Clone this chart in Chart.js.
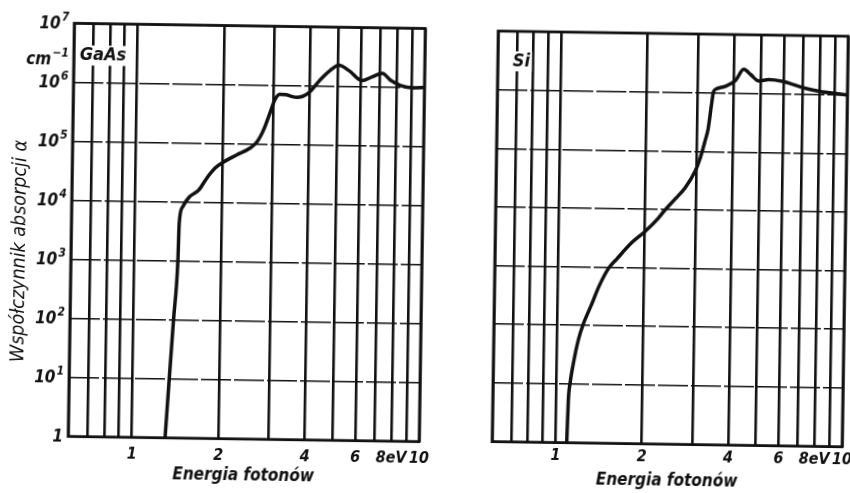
<!DOCTYPE html>
<html>
<head>
<meta charset="utf-8">
<title>Współczynnik absorpcji GaAs i Si</title>
<script src="https://cdn.jsdelivr.net/npm/chart.js@4.4.1/dist/chart.umd.min.js"></script>
<style>
    html, body { margin: 0; padding: 0; background: #fff; overflow: hidden; }
    /* the scanned figure sits slightly turned on the page */
    #sheet { position: relative; width: 850px; height: 493px; transform: rotate(0.85deg); transform-origin: 425px 246.5px; }
    .panel { position: absolute; top: 0; }
    #gaasBox { left: 0; }
    #siBox { left: 440px; }
</style>
</head>
<body>
<div id="sheet">
    <div class="panel" id="gaasBox"><canvas id="gaasChart" width="440" height="493"></canvas></div>
    <div class="panel" id="siBox"><canvas id="siChart" width="420" height="493"></canvas></div>
</div>
<script>
// photon energy grid [eV] and axis labels
const gridEnergies = [0.6, 0.7, 0.8, 0.9, 1, 2, 3, 4, 5, 6, 7, 8, 9, 10];
const energyLabels = { 1: '1', 2: '2', 4: '4', 6: '6', 8: '8eV', 10: '10' };
const alphaDecades = [1, 1e1, 1e2, 1e3, 1e4, 1e5, 1e6, 1e7];
const alphaExponents = ['', '1', '2', '3', '4', '5', '6', '7'];

// GaAs: absorption coefficient alpha [cm^-1] vs energy [eV]
const gaasEnergy = [1.305, 1.34, 1.377, 1.416, 1.425, 1.46, 1.54, 1.66, 1.77, 1.89, 2.02, 2.24, 2.49, 2.63,
    2.77, 2.91, 3.02, 3.14, 3.30, 3.45, 3.60, 3.95, 4.33, 4.70, 5.03, 5.45, 6.06, 6.58, 7.13, 7.62, 8.26, 9.08, 10];
const gaasAlpha = [1, 10, 100, 1000, 4400, 8200, 12200, 16100, 25900, 38400, 48700, 64600, 85000, 108000,
    174000, 338000, 563000, 705000, 700000, 655000, 630000, 750000, 1.26e6, 1.86e6, 2.27e6, 1.86e6, 1.26e6,
    1.47e6, 1.70e6, 1.30e6, 1.07e6, 0.98e6, 1.0e6];

// Si
const siEnergy = [1.093, 1.102, 1.115, 1.142, 1.185, 1.231, 1.313, 1.39, 1.50, 1.60, 1.80, 2.0, 2.22, 2.34,
    2.54, 2.75, 2.97, 3.09, 3.21, 3.28, 3.36, 3.41, 3.50, 3.75, 4.06, 4.34, 4.59, 4.90, 5.31, 5.91, 7.14, 8.17, 9.0, 10];
const siAlpha = [1, 5.3, 10.4, 22.6, 56.6, 106, 231, 470, 970, 1400, 2670, 4170, 7050, 9770,
    15300, 24000, 45700, 77000, 155000, 240000, 620000, 1.04e6, 1.18e6, 1.31e6, 1.64e6, 2.57e6, 2.1e6,
    1.64e6, 1.74e6, 1.64e6, 1.26e6, 1.11e6, 1.06e6, 1.0e6];

const INK = '#111';
const FACE = '"Liberation Sans Narrow", "DejaVu Sans Condensed", "Liberation Sans", sans-serif';

// text with a raised exponent, right edge at x
function powerText(ctx, base, sup, x, y) {
    ctx.textAlign = 'right';
    ctx.font = 'italic bold 12px ' + FACE;
    const sw = sup ? ctx.measureText(sup).width : 0;
    if (sup) ctx.fillText(sup, x, y - 7);
    ctx.font = 'italic bold 17px ' + FACE;
    ctx.fillText(base, x - sw - (sup ? 1 : 0), y);
}

// frame, material name, decade labels and the extra GaAs captions
const panelDecor = {
    id: 'panelDecor',
    afterDraw(chart, args, opts) {
        const { ctx, chartArea: a } = chart;
        ctx.save();
        ctx.lineWidth = 2.8;
        ctx.strokeStyle = INK;
        ctx.strokeRect(a.left, a.top, a.right - a.left, a.bottom - a.top);

        ctx.fillStyle = INK;
        ctx.textBaseline = 'middle';
        ctx.font = 'italic bold 18px ' + FACE;
        const nx = a.left + opts.nameX;
        const ny = a.top + opts.nameY;
        const w = ctx.measureText(opts.name).width;
        ctx.fillStyle = '#fff';
        ctx.fillRect(nx - 2, ny - 10, w + 4, 20);
        ctx.fillStyle = INK;
        ctx.textAlign = 'left';
        ctx.fillText(opts.name, nx, ny);

        if (opts.yLabels) {
            const yScale = chart.scales.y;
            alphaDecades.forEach((v, i) => {
                const py = yScale.getPixelForValue(v) + 1;
                powerText(ctx, v === 1 ? '1' : '10', alphaExponents[i], a.left - 5, py);
            });
            powerText(ctx, 'cm', '−1', a.left - 5, a.top + 37);
        }
        if (opts.yTitle) {
            ctx.font = 'italic 19.5px ' + FACE;
            ctx.textAlign = 'center';
            ctx.translate(a.left - 51, (a.top + a.bottom) / 2 + 22);
            ctx.rotate(-Math.PI / 2);
            ctx.fillText(opts.yTitle, 0, 0);
        }
        ctx.restore();
    }
};

function makePanel(canvasId, energy, alpha, cfg) {
    const ctx = document.getElementById(canvasId).getContext('2d');
    const tickFont = { family: FACE, size: 16, style: 'italic', weight: 'bold' };

    return new Chart(ctx, {
        type: 'line',
        data: {
            datasets: [{
                data: energy.map((e, i) => ({ x: e, y: alpha[i] })),
                borderColor: INK,
                borderWidth: 3.5,
                pointRadius: 0,
                cubicInterpolationMode: 'monotone',
                fill: false
            }]
        },
        options: {
            responsive: false,
            animation: false,
            layout: { padding: cfg.padding },
            plugins: {
                legend: { display: false },
                tooltip: { enabled: false },
                panelDecor: cfg.decor
            },
            scales: {
                x: {
                    type: 'logarithmic',
                    min: 0.6,
                    max: 10,
                    afterBuildTicks: s => { s.ticks = gridEnergies.map(v => ({ value: v })); },
                    afterFit: s => { s.height = 48; },
                    ticks: {
                        autoSkip: false,
                        maxRotation: 0,
                        padding: cfg.xPad,
                        color: INK,
                        font: tickFont,
                        callback: v => energyLabels[v] || ''
                    },
                    grid: { color: INK, lineWidth: 2.6, drawTicks: false },
                    border: { display: false },
                    title: {
                        display: true,
                        text: 'Energia fotonów',
                        color: INK,
                        font: { family: FACE, size: 17, style: 'italic', weight: 'bold' },
                        padding: { top: 0, bottom: 1 }
                    }
                },
                y: {
                    type: 'logarithmic',
                    min: 1,
                    max: 1e7,
                    afterBuildTicks: s => { s.ticks = alphaDecades.map(v => ({ value: v })); },
                    afterFit: s => { s.width = cfg.yWidth; },
                    ticks: { display: false },
                    grid: { color: INK, lineWidth: 1.6, drawTicks: false },
                    border: { display: false, dash: [30, 3] }
                }
            }
        },
        plugins: [panelDecor]
    });
}

makePanel('gaasChart', gaasEnergy, gaasAlpha, {
    padding: { left: 0, right: 14, top: 28.5, bottom: 3.3 },
    yWidth: 71,
    xPad: 8,
    decor: { name: 'GaAs', nameX: 6, nameY: 32, yLabels: true, yTitle: 'Współczynnik absorpcji α' }
});

makePanel('siChart', siEnergy, siAlpha, {
    padding: { left: 0, right: 15, top: 30, bottom: 4.4 },
    yWidth: 55,
    xPad: 4,
    decor: { name: 'Si', nameX: 15, nameY: 30, yLabels: false }
});
</script>
</body>
</html>
